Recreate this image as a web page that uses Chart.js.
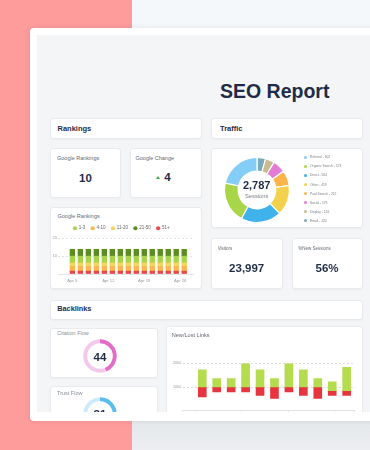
<!DOCTYPE html>
<html>
<head>
<meta charset="utf-8">
<script src="https://cdn.jsdelivr.net/npm/chart.js@4.4.1/dist/chart.umd.min.js"></script>
<style>
  html, body { margin: 0; padding: 0; }
  body {
    width: 370px; height: 450px; overflow: hidden; position: relative;
    background: #f4f8fb;
    font-family: "Liberation Sans", Arial, sans-serif; color: #1f2c47;
  }
  .pink { position: absolute; left: 0; top: 0; width: 132px; height: 450px; background: #fe9b9b; }
  .floor { position: absolute; left: 132px; top: 410px; width: 238px; height: 40px; background: linear-gradient(#e2e5e8, #eceef1); }
  .frame {
    position: absolute; left: 29.5px; top: 27.5px; width: 380px; height: 393.5px;
    background: #fff; border-radius: 4px; box-shadow: 0 0 5px rgba(40, 50, 70, 0.10);
  }
  .inner { position: absolute; left: 36.5px; top: 35px; width: 340px; height: 377px; background: #f4f5f7; }
  .dash { position: absolute; left: 0; top: 0; width: 370px; height: 450px; clip-path: inset(35px 0 38px 36.5px); }
  .panel {
    position: absolute; background: #fff; box-sizing: border-box;
    border: 1px solid #e8eaee; border-radius: 3px; box-shadow: 0 1px 2px rgba(30, 40, 60, 0.04);
  }
  .t { position: absolute; white-space: nowrap; line-height: 10px; height: 10px; }
  .c { transform: translateX(-50%); }
  .h { font-weight: bold; font-size: 7.5px; color: #1f2c47; }
  .lbl { font-size: 5.5px; color: #646a73; }
  .big { font-weight: bold; font-size: 11.5px; color: #1f2c47; }
  canvas { position: absolute; }
  .leg { position: absolute; left: 303px; top: 152.3px; }
  .leg div { position: relative; height: 9.1px; line-height: 10px; font-size: 3.3px; color: #7a7f87; white-space: nowrap; padding-left: 7px; }
  .leg span { position: absolute; left: 1.2px; top: 3.5px; width: 3px; height: 3px; border-radius: 50%; }
</style>
</head>
<body>
<div class="pink"></div>
<div class="floor"></div>
<div class="frame"></div>
<div class="inner"></div>

<div class="dash">
  <div class="t" style="left:220px; top:80.9px; line-height:20px; height:20px; font-size:19.5px; font-weight:bold;">SEO Report</div>

  <div class="panel" style="left:49.5px; top:117.5px; width:152.5px; height:21px;"></div>
  <div class="t h" style="left:57.5px; top:123.5px;">Rankings</div>
  <div class="panel" style="left:211px; top:117.5px; width:152px; height:21px;"></div>
  <div class="t h" style="left:220px; top:123.5px;">Traffic</div>

  <div class="panel" style="left:50px; top:148px; width:71px; height:50px;"></div>
  <div class="t lbl" style="left:57px; top:152.7px;">Google Rankings</div>
  <div class="t big c" style="left:85.5px; top:172.7px;">10</div>

  <div class="panel" style="left:130px; top:148px; width:71.5px; height:50px;"></div>
  <div class="t lbl" style="left:135.5px; top:152.7px;">Google Change</div>
  <div style="position:absolute; left:156px; top:176px; width:0; height:0; border-left:2.3px solid transparent; border-right:2.3px solid transparent; border-bottom:3.6px solid #48a64c;"></div>
  <div class="t big" style="left:164.3px; top:172.2px;">4</div>

  <div class="panel" style="left:50px; top:207px; width:151.5px; height:82px;"></div>
  <div class="t lbl" style="left:57.5px; top:210.7px;">Google Rankings</div>
  <canvas id="rankChart" width="151" height="67" style="left:50px; top:220px;"></canvas>

  <div class="panel" style="left:211px; top:148px; width:152px; height:80px;"></div>
  <canvas id="trafficChart" width="72" height="72" style="left:220.7px; top:154px;"></canvas>
  <div class="t c" style="left:256.7px; top:180.3px; font-size:11px; font-weight:bold;">2,787</div>
  <div class="t c" style="left:256.7px; top:191px; font-size:5.8px; color:#7a7f87;">Sessions</div>
  <div class="leg" id="trafficLegend"></div>

  <div class="panel" style="left:211px; top:237.5px; width:71.5px; height:51px;"></div>
  <div class="t" style="left:217.7px; top:244px; font-size:4.5px; color:#646a73;">Visitors</div>
  <div class="t big c" style="left:246.7px; top:262.7px;">23,997</div>
  <div class="panel" style="left:291.5px; top:237.5px; width:71.5px; height:51px;"></div>
  <div class="t" style="left:298.3px; top:244px; font-size:4.5px; color:#646a73;">%New Sessions</div>
  <div class="t big c" style="left:327px; top:262.7px;">56%</div>

  <div class="panel" style="left:49.5px; top:299.5px; width:313.5px; height:20.5px;"></div>
  <div class="t h" style="left:57.3px; top:304px; font-size:7.3px;">Backlinks</div>

  <div class="panel" style="left:49.5px; top:327.5px; width:108px; height:50px;"></div>
  <div class="t lbl" style="left:57px; top:328.3px; color:#8a8f98;">Citation Flow</div>
  <canvas id="citationChart" width="36" height="36" style="left:82px; top:338px;"></canvas>
  <div class="t big c" style="left:100px; top:351.5px;">44</div>

  <div class="panel" style="left:49.5px; top:385.5px; width:108px; height:60px;"></div>
  <div class="t lbl" style="left:57px; top:388px; color:#8a8f98;">Trust Flow</div>
  <canvas id="trustChart" width="36" height="36" style="left:82px; top:396.4px;"></canvas>
  <div class="t big c" style="left:100px; top:409.4px;">31</div>

  <div class="panel" style="left:166px; top:326px; width:196.5px; height:120px;"></div>
  <div class="t lbl" style="left:171.7px; top:330px; font-size:5.6px;">New/Lost Links</div>
  <canvas id="linksChart" width="196" height="95" style="left:166px; top:345px;"></canvas>
</div>

<script>
// traffic by source
const trafficSources = ['Referral', 'Organic Search', 'Direct', 'Other', 'Paid Search', 'Social', 'Display', 'Email'];
const trafficSessions = [602, 573, 564, 419, 212, 179, 126, 120];
const trafficColors = ['#84cdf7', '#a9d548', '#3fb2ec', '#f3d14c', '#fdb44b', '#e47cd5', '#c8bb8d', '#7aa9b9'];

// google rankings, 15 snapshots
const rankBuckets = ['1-3', '4-10', '11-20', '21-50', '51+'];
const rank1to3   = [3.7, 3.7, 3.7, 3.7, 3.7, 3.7, 3.7, 3.7, 3.7, 3.7, 3.7, 3.7, 3.7, 3.7, 3.7];
const rank4to10  = [2.6, 2.6, 2.6, 2.6, 2.6, 2.6, 2.6, 2.6, 2.6, 2.6, 2.6, 2.6, 2.6, 2.6, 2.6];
const rank11to20 = [2.0, 2.0, 2.0, 2.0, 2.0, 2.0, 2.0, 2.0, 2.0, 2.0, 2.0, 2.0, 2.0, 2.0, 2.0];
const rank21to50 = [3.8, 3.8, 3.8, 3.8, 3.8, 3.8, 3.8, 3.8, 3.8, 3.8, 3.8, 3.8, 3.8, 3.8, 3.8];
const rank51plus = [1.6, 1.6, 1.6, 1.6, 1.6, 1.6, 1.6, 1.6, 1.6, 1.6, 1.6, 1.6, 1.6, 1.6, 1.6];
const rankTickLabels = ['Apr 5', 'Apr 12', 'Apr 19', 'Apr 26'];
const rankTickAt = [0, 4.5, 9, 13.5];
const rankColors = ['#a7d549', '#fdb54c', '#f6d35a', '#5c8e1f', '#e8464c'];

// backlinks
const citationFlow = 44;
const trustFlow = 31;
const linksSplit  = [1000, 1000, 1000, 1000, 1000, 1000, 1000, 1000, 1000, 850, 850];
const newLinksTop = [1720, 1360, 1360, 1990, 1720, 1360, 1990, 1720, 1360, 1220, 1830];
const lostLinksLow = [585, 790, 790, 790, 640, 515, 790, 640, 515, 640, 640];
const linksTickAt = [-1.357, -0.457, 2.73, 5.96, 9.19, 10.53];

Chart.defaults.font.family = '"Liberation Sans", Arial, sans-serif';
Chart.defaults.animation = false;

// html legend for the doughnut
document.getElementById('trafficLegend').innerHTML = trafficSources
  .map((s, i) => `<div><span style="background:${trafficColors[i]}"></span>${s} - ${trafficSessions[i]}</div>`)
  .join('');

new Chart(document.getElementById('trafficChart'), {
  type: 'doughnut',
  data: {
    labels: trafficSources.slice().reverse(),
    datasets: [{
      data: trafficSessions.slice().reverse(),
      backgroundColor: trafficColors.slice().reverse(),
      borderColor: '#fff',
      borderWidth: 1.2
    }]
  },
  options: {
    responsive: false,
    radius: 32.5,
    cutout: 20.5,
    plugins: { legend: { display: false }, tooltip: { enabled: false } }
  }
});

// bottom to top in each stack
const stackOrder = [4, 1, 2, 0, 3];
const rankSeries = [rank1to3, rank4to10, rank11to20, rank21to50, rank51plus];

new Chart(document.getElementById('rankChart'), {
  type: 'bar',
  data: {
    datasets: stackOrder.map(k => ({
      label: rankBuckets[k],
      data: rankSeries[k].map((v, i) => ({ x: i, y: v })),
      backgroundColor: rankColors[k],
      borderWidth: 0,
      barThickness: 4.7
    }))
  },
  options: {
    responsive: false,
    layout: { padding: { right: 8 } },
    plugins: {
      tooltip: { enabled: false },
      legend: {
        position: 'top',
        maxHeight: 18,
        labels: {
          usePointStyle: true, pointStyle: 'circle',
          boxWidth: 3, boxHeight: 3, padding: 6,
          font: { size: 4.5 }, color: '#666',
          sort: (a, b) => stackOrder[a.datasetIndex] - stackOrder[b.datasetIndex]
        }
      }
    },
    scales: {
      x: {
        type: 'linear', stacked: true, offset: false,
        min: -1.8, max: 15.1,
        grid: { display: false, drawTicks: false, offset: false },
        border: { color: '#e6e6e6' },
        afterFit: s => { s.height = 13; },
        afterBuildTicks: s => { s.ticks = rankTickAt.map(v => ({ value: v })); },
        ticks: {
          autoSkip: false, maxRotation: 0, padding: 4.2,
          font: { size: 4.2 }, color: '#9a9a9a',
          callback: (v, i) => rankTickLabels[i]
        }
      },
      y: {
        stacked: true, min: 0, max: 20,
        afterFit: s => { s.width = 8; },
        grid: { color: '#e2e2e2', drawTicks: false },
        border: { display: false, dash: [2, 2] },
        ticks: {
          stepSize: 10, padding: 1, font: { size: 4 }, color: '#9a9a9a',
          callback: v => v === 0 ? '' : v
        }
      }
    }
  }
});

function gauge(id, value, color, track) {
  new Chart(document.getElementById(id), {
    type: 'doughnut',
    data: { datasets: [{ data: [value, 100 - value], backgroundColor: [color, track], borderWidth: 0 }] },
    options: {
      responsive: false,
      radius: 16.7,
      cutout: 13.8,
      plugins: { legend: { display: false }, tooltip: { enabled: false } }
    }
  });
}
gauge('citationChart', citationFlow, '#e46cc9', '#f5c8eb');
gauge('trustChart', trustFlow, '#5bbcf1', '#cdebfc');

new Chart(document.getElementById('linksChart'), {
  type: 'bar',
  data: {
    datasets: [
      {
        label: 'New',
        data: newLinksTop.map((v, i) => ({ x: i, y: [linksSplit[i], v] })),
        backgroundColor: '#b4dc4e', barThickness: 8, grouped: false, borderWidth: 0
      },
      {
        label: 'Lost',
        data: lostLinksLow.map((v, i) => ({ x: i, y: [v, linksSplit[i]] })),
        backgroundColor: '#e6353f', barThickness: 8, grouped: false, borderWidth: 0
      }
    ]
  },
  options: {
    responsive: false,
    layout: { padding: { top: 18.3, right: 7.7 } },
    plugins: { legend: { display: false }, tooltip: { enabled: false } },
    scales: {
      x: {
        type: 'linear', offset: false,
        min: -1.357, max: 10.53,
        afterFit: s => { s.height = 29.3; },
        afterBuildTicks: s => { s.ticks = linksTickAt.map(v => ({ value: v })); },
        grid: { drawOnChartArea: false, drawTicks: true, tickLength: 4, color: '#e2e2e2', offset: false },
        border: { color: '#e2e2e2' },
        ticks: { display: false }
      },
      y: {
        min: 0, max: 2000,
        afterFit: s => { s.width = 16.7; },
        grid: { color: '#dedede', drawTicks: false },
        border: { display: false, dash: [2, 2] },
        ticks: {
          stepSize: 1000, padding: 1.5, font: { size: 3.7 }, color: '#9a9a9a',
          callback: v => v === 0 ? '' : v
        }
      }
    }
  }
});
</script>
</body>
</html>
